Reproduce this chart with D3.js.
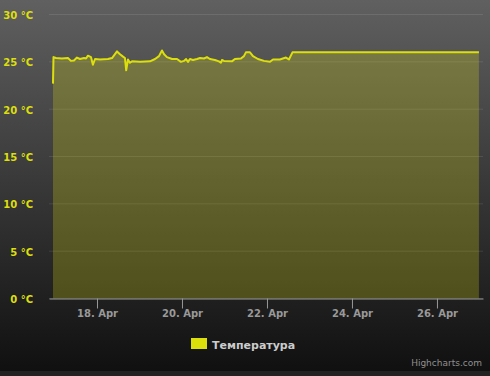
<!DOCTYPE html>
<html>
<head>
<meta charset="utf-8">
<script src="https://cdn.jsdelivr.net/npm/d3@7"></script>
<style>
  html, body { margin: 0; padding: 0; background: #222; }
  svg { display: block; }
</style>
</head>
<body>
<div id="chart"></div>
<script>
// Hours since 17 Apr 00:00 (UTC) and temperatures in °C
const hours = [-0.85, -0.56, 0.85, 4.2, 7.6, 9.3, 11.0, 12.7, 14.4, 16.7, 17.8, 18.9, 20.6, 21.7, 22.9,
  25.7, 30.2, 32.5, 35.3, 37.0, 38.7, 39.8, 40.5, 41.5, 42.6, 43.8, 48.3, 53.9, 56.8, 59.0, 60.7,
  61.9, 63.5, 66.4, 69.2, 71.4, 73.1, 74.3, 75.4, 76.5, 78.2, 80.5, 82.2, 84.4, 86.1, 87.8, 90.6,
  92.9, 94.0, 94.6, 95.7, 100.2, 101.9, 105.3, 107.0, 108.1, 110.4, 112.1, 114.9, 118.3, 121.7,
  123.4, 127.3, 130.7, 132.4, 134.4, 239.7];
const temps = [22.7, 25.5, 25.4, 25.35, 25.4, 25.1, 25.15, 25.45, 25.3, 25.4, 25.35, 25.65, 25.5, 24.7, 25.3,
  25.25, 25.3, 25.4, 26.1, 25.8, 25.55, 25.4, 24.1, 25.25, 24.9, 25.05, 25.0, 25.05, 25.3, 25.6, 26.2,
  25.8, 25.5, 25.3, 25.3, 25.0, 25.1, 25.3, 25.0, 25.3, 25.2, 25.3, 25.4, 25.35, 25.5, 25.3, 25.2,
  25.05, 24.9, 25.2, 25.1, 25.05, 25.3, 25.35, 25.6, 26.0, 26.0, 25.6, 25.3, 25.1, 25.0,
  25.25, 25.25, 25.45, 25.25, 26.0, 26.0];
const xTickDays = [18, 20, 22, 24, 26];
const xTickLabels = ["18. Apr", "20. Apr", "22. Apr", "24. Apr", "26. Apr"];
const yTicks = [0, 5, 10, 15, 20, 25, 30];
const seriesName = "Температура";

const W = 490, H = 371;
const base = Date.UTC(2013, 3, 17);
const data = hours.map((h, i) => ({ t: new Date(base + h * 3600e3), v: temps[i] }));

const svg = d3.select("#chart").append("svg").attr("width", W).attr("height", 376);
const defs = svg.append("defs");
const bg = defs.append("linearGradient").attr("id", "bg").attr("x1", 0).attr("y1", 0).attr("x2", 0).attr("y2", 1);
bg.append("stop").attr("offset", 0).attr("stop-color", "rgb(96,96,96)");
bg.append("stop").attr("offset", 1).attr("stop-color", "rgb(16,16,16)");
svg.append("rect").attr("width", W).attr("height", H).attr("fill", "url(#bg)");

const x = d3.scaleUtc()
  .domain([new Date(base - 3.1 * 3600e3), new Date(base + 242 * 3600e3)])
  .range([49, 483]);
const y = d3.scaleLinear().domain([0, 30]).range([298.5, 14.5]);

const color = "#DDDF0D";
const font = "'DejaVu Sans', sans-serif";

// grid lines
svg.append("g").selectAll("line").data(yTicks).join("line")
  .attr("x1", 49).attr("x2", 483)
  .attr("y1", d => y(d)).attr("y2", d => y(d))
  .attr("stroke", "rgba(255,255,255,0.1)");

// y labels
svg.append("g").selectAll("text").data(yTicks).join("text")
  .attr("x", 33).attr("y", d => y(d) + 4.5)
  .attr("text-anchor", "end")
  .attr("fill", color)
  .style("font", "bold 10px " + font)
  .text(d => d + " °C");

// area
const area = d3.area().x(d => x(d.t)).y0(y(0)).y1(d => y(d.v));
svg.append("path").datum(data).attr("d", area)
  .attr("fill", color).attr("fill-opacity", 0.25);
const line = d3.line().x(d => x(d.t)).y(d => y(d.v));
svg.append("path").datum(data).attr("d", line)
  .attr("fill", "none").attr("stroke", color).attr("stroke-width", 2)
  .attr("stroke-linejoin", "round");

// x axis
const tickDates = xTickDays.map(d => new Date(Date.UTC(2013, 3, d)));
const xAxis = d3.axisBottom(x).tickValues(tickDates)
  .tickFormat((d, i) => xTickLabels[i]).tickSize(10).tickSizeOuter(0).tickPadding(8);
const gx = svg.append("g").attr("transform", "translate(0,298.5)").call(xAxis);
gx.select(".domain").attr("stroke", "#999");
gx.selectAll(".tick line").attr("stroke", "#999");
gx.selectAll(".tick text").attr("fill", "#999").attr("dy", null).attr("y", 18)
  .style("font", "bold 10px " + font);

// legend
svg.append("rect").attr("x", 191).attr("y", 338).attr("width", 16).attr("height", 11).attr("fill", color);
svg.append("text").attr("x", 212).attr("y", 349).attr("fill", "#CCC")
  .style("font", "bold 11px " + font).text(seriesName);

// credits
svg.append("text").attr("x", 482).attr("y", 366).attr("text-anchor", "end")
  .attr("fill", "#909090").style("font", "9px " + font).text("Highcharts.com");
</script>
</body>
</html>
